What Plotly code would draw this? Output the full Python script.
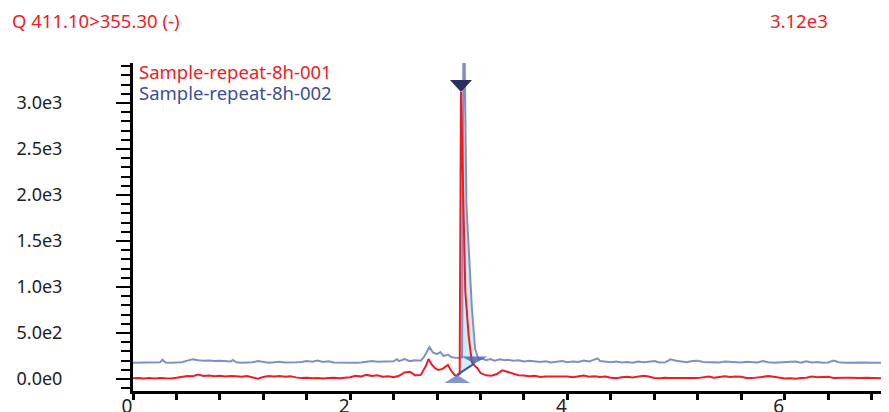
import plotly.graph_objects as go

# ---------------- data ----------------
red_name = "Sample-repeat-8h-001"
blue_name = "Sample-repeat-8h-002"
title_text = "Q 411.10>355.30 (-)"
max_text = "3.12e3"

red_rt = [0.00, 0.05, 0.10, 0.15, 0.20, 0.25, 0.30, 0.35, 0.40, 0.45, 0.50, 0.55, 0.60, 0.65, 0.70,
          0.75, 0.80, 0.85, 0.90, 0.95, 1.00, 1.05, 1.10, 1.15, 1.20, 1.25, 1.30, 1.35, 1.40, 1.45,
          1.50, 1.55, 1.60, 1.65, 1.70, 1.75, 1.80, 1.85, 1.90, 1.95, 2.00, 2.05, 2.10, 2.15, 2.20,
          2.25, 2.30, 2.35, 2.40, 2.45, 2.50, 2.55, 2.60, 2.65, 2.70, 2.72, 2.75, 2.78, 2.81, 2.85,
          2.88, 2.90, 2.93, 2.96, 2.98, 3.00, 3.008, 3.02, 3.06, 3.09, 3.12, 3.15, 3.17, 3.20, 3.25,
          3.30, 3.35, 3.40, 3.45, 3.50, 3.55, 3.60, 3.65, 3.70, 3.75, 3.80, 3.85, 3.90, 3.95, 4.00,
          4.05, 4.10, 4.15, 4.20, 4.25, 4.30, 4.35, 4.40, 4.45, 4.50, 4.55, 4.60, 4.65, 4.70, 4.75,
          4.80, 4.85, 4.90, 4.95, 5.00, 5.05, 5.10, 5.15, 5.20, 5.25, 5.30, 5.35, 5.40, 5.45, 5.50,
          5.55, 5.60, 5.65, 5.70, 5.75, 5.80, 5.85, 5.90, 5.95, 6.00, 6.05, 6.10, 6.15, 6.20, 6.25,
          6.30, 6.35, 6.40, 6.45, 6.50, 6.55, 6.60, 6.65, 6.70, 6.75, 6.80, 6.85, 6.90, 6.95, 7.00]
red_int = [8, 12, 6, 10, 5, 12, 8, 6, 14, 28, 34, 30, 48, 33, 38,
           30, 35, 27, 33, 30, 24, 32, 20, 4, 22, 34, 28, 33, 26, 30,
           18, 10, 14, 8, 12, 5, 10, 14, 8, 12, 20, 35, 28, 45, 32,
           40, 25, 30, 20, 35, 72, 78, 40, 45, 150, 217, 160, 120, 98, 110,
           135, 152, 90, 45, 35, 45, 55, 3120, 950, 480, 185, 140, 120, 65, 40,
           35, 55, 95, 78, 55, 42, 38, 30, 35, 22, 28, 30, 25, 32, 28,
           20, 30, 38, 26, 30, 22, 28, 15, 10, 20, 25, 18, 30, 35, 28,
           12, 8, 15, 10, 12, 8, 15, 12, 10, 22, 28, 15, 25, 30, 22,
           28, 25, 12, 10, 15, 28, 32, 25, 18, 5, 8, 3, 12, 15, 28,
           20, 22, 25, 12, 10, 14, 15, 10, 12, 15, 10, 12, 8, 12, 10]

blue_rt = [0.00, 0.05, 0.10, 0.15, 0.20, 0.25, 0.27, 0.30, 0.35, 0.40, 0.45, 0.50, 0.55, 0.60, 0.65,
           0.70, 0.75, 0.80, 0.85, 0.90, 0.92, 0.95, 1.00, 1.05, 1.10, 1.15, 1.20, 1.25, 1.30, 1.35,
           1.40, 1.45, 1.50, 1.55, 1.60, 1.65, 1.70, 1.75, 1.80, 1.85, 1.90, 1.95, 2.00, 2.05, 2.10,
           2.15, 2.20, 2.25, 2.30, 2.35, 2.40, 2.43, 2.45, 2.50, 2.55, 2.60, 2.65, 2.68, 2.70, 2.73,
           2.76, 2.80, 2.83, 2.86, 2.90, 2.93, 2.97, 3.00, 3.03, 3.045, 3.07, 3.12, 3.15, 3.18, 3.22,
           3.25, 3.29, 3.33, 3.38, 3.42, 3.45, 3.50, 3.55, 3.60, 3.65, 3.70, 3.75, 3.80, 3.85, 3.90,
           3.95, 4.00, 4.05, 4.10, 4.15, 4.20, 4.25, 4.28, 4.30, 4.35, 4.40, 4.45, 4.50, 4.55, 4.60,
           4.65, 4.70, 4.75, 4.80, 4.85, 4.90, 4.95, 5.00, 5.05, 5.10, 5.15, 5.20, 5.25, 5.30, 5.35,
           5.40, 5.45, 5.50, 5.55, 5.60, 5.65, 5.70, 5.75, 5.80, 5.85, 5.90, 5.95, 6.00, 6.05, 6.10,
           6.15, 6.20, 6.25, 6.30, 6.35, 6.40, 6.45, 6.50, 6.55, 6.60, 6.65, 6.70, 6.75, 6.80, 6.85,
           6.90, 6.95, 7.00]
blue_int = [178, 180, 176, 178, 180, 182, 210, 180, 178, 180, 182, 200, 215, 205, 198,
            202, 195, 200, 192, 190, 208, 182, 178, 180, 182, 195, 185, 178, 182, 188,
            180, 178, 182, 185, 195, 188, 200, 185, 192, 180, 178, 182, 180, 178, 180,
            185, 195, 188, 190, 196, 192, 215, 195, 217, 195, 205, 200, 240, 280, 348,
            290, 270, 293, 250, 265, 240, 230, 228, 235, 4400, 1900, 780, 330, 215, 220,
            205, 217, 200, 215, 205, 210, 200, 205, 190, 200, 195, 185, 192, 180, 188,
            195, 182, 190, 185, 200, 192, 208, 225, 195, 188, 182, 190, 180, 185, 178,
            190, 182, 188, 195, 180, 182, 215, 198, 190, 182, 195, 200, 185, 182, 178,
            180, 190, 185, 178, 180, 188, 182, 180, 195, 182, 178, 180, 185, 180, 190,
            178, 192, 180, 185, 178, 180, 200, 182, 178, 180, 175, 178, 180, 176, 178,
            180, 178, 179]

# integrated peak: start, apex and end points (retention time, intensity)
peak_start_rt, peak_start_int = 2.985, 45
peak_apex_rt, peak_apex_int = 3.02, 3120
peak_end_rt, peak_end_int = 3.145, 170

y_tick_vals = [0, 500, 1000, 1500, 2000, 2500, 3000]
y_tick_text = ["0.0e0", "5.0e2", "1.0e3", "1.5e3", "2.0e3", "2.5e3", "3.0e3"]
x_tick_vals = [0, 2, 4, 6]
x_tick_text = ["0", "2", "4", "6"]

# ---------------- style / layout ----------------
RED = "#ee1c25"
BLUE_LINE = "#8190c2"
BLUE_TEXT = "#3c4e96"
FONT = "Noto Sans"

X_RANGE = [0, 7.035]
Y_RANGE = [-130, 3435]
MARGIN = dict(l=125, r=0, t=55, b=29)
FIG_W, FIG_H = 889, 412
plot_w = FIG_W - MARGIN["l"] - MARGIN["r"]
plot_h = FIG_H - MARGIN["t"] - MARGIN["b"]
px_x = plot_w / (X_RANGE[1] - X_RANGE[0])   # pixels per x unit
px_y = plot_h / (Y_RANGE[1] - Y_RANGE[0])   # pixels per y unit


def marker_triangle(x0, y0, half_w_px, h_px, pointing_up):
    """Triangle glyph (sized in pixels) whose tip sits on the data point."""
    dx = half_w_px / px_x
    dy = h_px / px_y
    base = y0 - dy if pointing_up else y0 + dy
    return [x0, x0 - dx, x0 + dx, x0], [y0, base, base, y0]


# build the integrated-area polygon from the series
fill_x = [peak_start_rt]
fill_y = [peak_start_int]
for t, v in zip(red_rt, red_int):
    if peak_start_rt < t <= peak_apex_rt:
        fill_x.append(t)
        fill_y.append(min(v, peak_apex_int))
for t, v in zip(blue_rt, blue_int):
    if peak_apex_rt < t < peak_end_rt:
        fill_x.append(t)
        fill_y.append(min(v, peak_apex_int))
fill_x.append(peak_end_rt)
fill_y.append(peak_end_int)

fig = go.Figure()
fig.add_trace(go.Scatter(x=fill_x, y=fill_y, fill="toself", mode="none",
                         fillcolor="rgba(200,232,238,0.85)", hoverinfo="skip", showlegend=False))
fig.add_trace(go.Scatter(x=blue_rt, y=blue_int, mode="lines", name=blue_name,
                         line=dict(color=BLUE_LINE, width=2), showlegend=False))
fig.add_trace(go.Scatter(x=red_rt, y=red_int, mode="lines", name=red_name,
                         line=dict(color=RED, width=2), showlegend=False))
# baseline of integration
fig.add_trace(go.Scatter(x=[peak_start_rt, peak_end_rt], y=[peak_start_int, peak_end_int],
                         mode="lines", line=dict(color="#2f5aa8", width=2), showlegend=False))

# start / end / apex glyphs
for (px0, py0, hw, hh, up, col) in [
    (peak_start_rt, peak_start_int, 13, 8, True, "rgba(95,125,200,0.8)"),
    (peak_end_rt, peak_end_int, 13, 7, False, "rgba(70,105,190,0.85)"),
    (peak_apex_rt, peak_apex_int, 11, 12, False, "#2a2f5e"),
]:
    tx, ty = marker_triangle(px0, py0, hw, hh, up)
    fig.add_trace(go.Scatter(x=tx, y=ty, fill="toself", mode="none", fillcolor=col,
                             hoverinfo="skip", showlegend=False))

# legend-like labels
fig.add_annotation(text=red_name, xref="paper", yref="paper", x=0.005, y=0.973,
                   xanchor="left", yanchor="middle", showarrow=False,
                   font=dict(family=FONT, size=18.5, color=RED))
fig.add_annotation(text=blue_name, xref="paper", yref="paper", x=0.005, y=0.909,
                   xanchor="left", yanchor="middle", showarrow=False,
                   font=dict(family=FONT, size=18.5, color=BLUE_TEXT))
# header texts
fig.add_annotation(text=title_text, xref="paper", yref="paper", x=-0.161, y=1.131,
                   xanchor="left", yanchor="middle", showarrow=False,
                   font=dict(family=FONT, size=18.5, color=RED))
fig.add_annotation(text=max_text, xref="paper", yref="paper", x=0.912, y=1.131,
                   xanchor="right", yanchor="middle", showarrow=False,
                   font=dict(family=FONT, size=18.5, color=RED))

fig.update_layout(
    width=FIG_W, height=FIG_H,
    margin=dict(**MARGIN, autoexpand=False),
    plot_bgcolor="white", paper_bgcolor="white",
    showlegend=False,
    font=dict(family=FONT, color="#222222"),
)
fig.update_xaxes(
    range=X_RANGE, showgrid=False, zeroline=False, automargin=False,
    showline=True, linecolor="black", linewidth=3,
    ticks="outside", ticklen=6, tickwidth=2.5, tickcolor="black",
    tickvals=x_tick_vals, ticktext=x_tick_text,
    tickfont=dict(family=FONT, size=19, color="#222222"),
    ticklabelshift=-6, ticklabelstandoff=-10,
    minor=dict(dtick=0.4, tick0=0, ticks="outside", ticklen=6, tickwidth=2.5,
               tickcolor="black", showgrid=False),
)
fig.update_yaxes(
    range=Y_RANGE, showgrid=False, zeroline=False, automargin=False,
    showline=True, linecolor="black", linewidth=3,
    ticks="outside", ticklen=14, tickwidth=2.2, tickcolor="black",
    tickvals=y_tick_vals, ticktext=y_tick_text,
    tickfont=dict(family=FONT, size=18, color="#222222"),
    ticklabelstandoff=50,
    minor=dict(dtick=100, tick0=0, ticks="outside", ticklen=9, tickwidth=2.2,
               tickcolor="black", showgrid=False),
)

fig.write_html("out.html")
